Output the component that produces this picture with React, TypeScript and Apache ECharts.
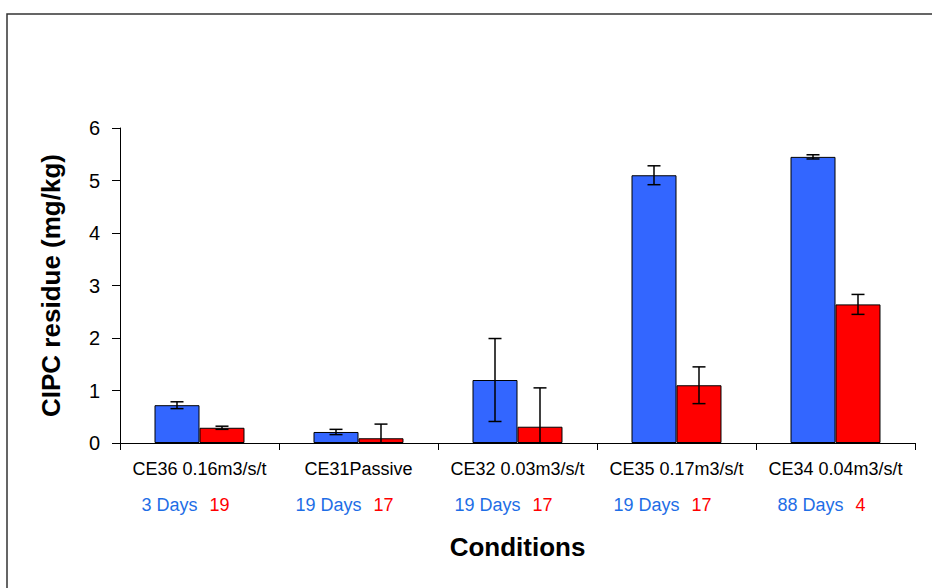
import React, { useEffect, useRef } from "react";
import * as echarts from "echarts";

const categories = ["CE36 0.16m3/s/t", "CE31Passive", "CE32 0.03m3/s/t", "CE35 0.17m3/s/t", "CE34 0.04m3/s/t"];
const daysBlue = ["3", "19", "19", "19", "88"];
const daysRed = ["19", "17", "17", "17", "4"];
const blueValues = [0.72, 0.21, 1.2, 5.1, 5.45];
const blueErr = [0.065, 0.05, 0.79, 0.18, 0.04];
const redValues = [0.29, 0.09, 0.31, 1.1, 2.64];
const redErr = [0.03, 0.27, 0.74, 0.35, 0.19];
const yTicks = [0, 1, 2, 3, 4, 5, 6];

const FONT = "Arial, 'Liberation Sans', sans-serif";
const BAR_FRAC = 0.283;

function errorSeries(values: number[], errs: number[], side: number) {
  return {
    type: "custom",
    silent: true,
    z: 10,
    data: values.map((v, i) => [i, v - errs[i], v + errs[i]]),
    encode: { x: 0, y: [1, 2] },
    renderItem: (params: any, api: any) => {
      const idx = api.value(0);
      const lowRaw = api.value(1);
      const high = api.value(2);
      const low = Math.max(0, lowRaw);
      const band = api.size([1, 0])[0];
      const barW = band * BAR_FRAC;
      const c = api.coord([idx, 0])[0] + side * barW / 2;
      const yHigh = api.coord([idx, high])[1];
      const yLow = api.coord([idx, low])[1];
      const cap = 6.5;
      const style = { stroke: "#000", lineWidth: 1.5 };
      const children: any[] = [
        { type: "line", shape: { x1: c, y1: yHigh, x2: c, y2: yLow }, style },
        { type: "line", shape: { x1: c - cap, y1: yHigh, x2: c + cap, y2: yHigh }, style },
      ];
      if (lowRaw >= 0) {
        children.push({ type: "line", shape: { x1: c - cap, y1: yLow, x2: c + cap, y2: yLow }, style });
      }
      return { type: "group", children };
    },
  };
}

export default function App() {
  const ref = useRef<HTMLDivElement>(null);
  useEffect(() => {
    if (!ref.current) return;
    const chart = echarts.init(ref.current, null, { renderer: "svg" });
    chart.setOption({
      animation: false,
      backgroundColor: "#ffffff",
      textStyle: { fontFamily: FONT },
      graphic: [
        {
          type: "rect",
          shape: { x: 7, y: 14, width: 940, height: 600 },
          style: { fill: "none", stroke: "#333", lineWidth: 1.5 },
          z: -1,
        },
      ],
      grid: { left: 120, right: 17, top: 128, bottom: 145 },
      xAxis: {
        type: "category",
        data: categories,
        axisLine: { lineStyle: { color: "#000", width: 1 } },
        axisTick: { show: true, length: 7, lineStyle: { color: "#000" } },
        axisLabel: {
          interval: 0,
          margin: 8,
          formatter: (value: string, index: number) =>
            `{a|${value}}\n{b|${daysBlue[index]} Days}{c|${daysRed[index]}}`,
          rich: {
            a: { fontSize: 18, color: "#000", fontFamily: FONT, lineHeight: 36 },
            b: { fontSize: 18, color: "#1e6ee6", fontFamily: FONT, lineHeight: 36 },
            c: { fontSize: 18, color: "#ff0000", fontFamily: FONT, lineHeight: 36, padding: [0, 28, 0, 12] },
          },
        },
        name: "Conditions",
        nameLocation: "middle",
        nameGap: 91,
        nameTextStyle: { fontSize: 26, fontWeight: "bold", color: "#000", fontFamily: FONT },
      },
      yAxis: {
        type: "value",
        min: yTicks[0],
        max: yTicks[yTicks.length - 1],
        interval: 1,
        splitLine: { show: false },
        axisLine: { show: true, lineStyle: { color: "#000", width: 1 } },
        axisTick: { show: true, length: 8, lineStyle: { color: "#000" } },
        axisLabel: { fontSize: 20, color: "#000", margin: 20, fontFamily: FONT },
        name: "CIPC residue (mg/kg)",
        nameLocation: "middle",
        nameGap: 56,
        nameTextStyle: { fontSize: 26, fontWeight: "bold", color: "#000", fontFamily: FONT },
      },
      series: [
        {
          type: "bar",
          data: blueValues,
          barWidth: `${BAR_FRAC * 100}%`,
          barGap: "0%",
          itemStyle: { color: "#3366ff", borderColor: "#000", borderWidth: 1 },
        },
        {
          type: "bar",
          data: redValues,
          barWidth: `${BAR_FRAC * 100}%`,
          barGap: "0%",
          itemStyle: { color: "#ff0000", borderColor: "#000", borderWidth: 1 },
        },
        errorSeries(blueValues, blueErr, -1),
        errorSeries(redValues, redErr, 1),
      ],
    });
    return () => chart.dispose();
  }, []);
  return <div ref={ref} style={{ width: 932, height: 588, position: "absolute", left: 0, top: 0 }} />;
}
